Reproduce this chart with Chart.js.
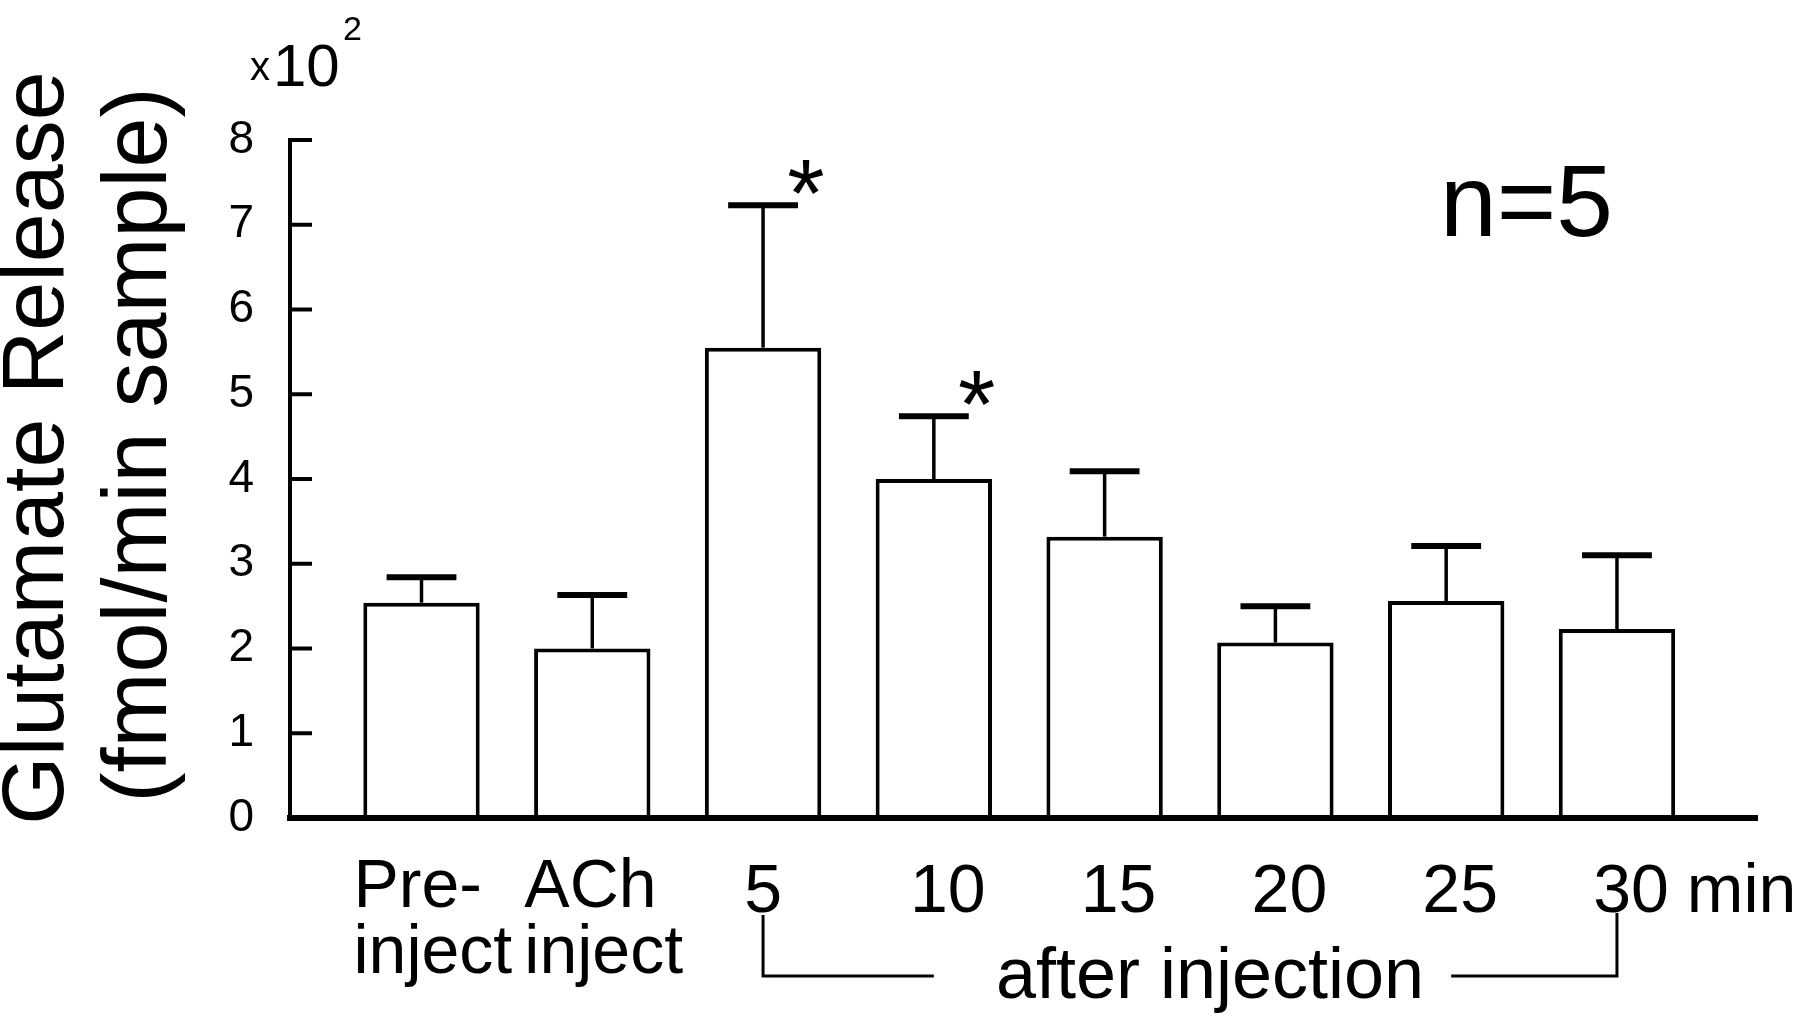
<!DOCTYPE html>
<html>
<head>
<meta charset="utf-8">
<script src="https://cdn.jsdelivr.net/npm/chart.js@4.4.3/dist/chart.umd.min.js"></script>
<style>
  html, body { margin: 0; padding: 0; background: #fff; }
  #wrap { width: 1800px; height: 1016px; }
</style>
</head>
<body>
<div id="wrap"><canvas id="chart" width="1800" height="1016"></canvas></div>
<script>
// Glutamate release before / after ACh injection (x10^2 fmol/min sample), n=5
const groupLabels = [['Pre-', 'inject'], ['ACh', 'inject'], ['5'], ['10'], ['15'], ['20'], ['25'], ['30']];
const timeUnit = 'min';
const meanRelease = [2.54, 2.00, 5.55, 4.00, 3.32, 2.07, 2.56, 2.23];
const semRelease = [0.30, 0.63, 1.68, 0.74, 0.77, 0.43, 0.65, 0.87];
const significant = [false, false, true, true, false, false, false, false];
const yTicks = [0, 1, 2, 3, 4, 5, 6, 7, 8];

const FONT = '"Liberation Sans", Arial, Helvetica, sans-serif';

function font(size) {
  return size + 'px ' + FONT;
}

// draws inward ticks, error bars, asterisks, category labels and other text
const annotate = {
  id: 'annotate',
  afterDatasetsDraw(chart) {
    const ctx = chart.ctx;
    const xs = chart.scales.x;
    const ys = chart.scales.y;
    const area = chart.chartArea;
    const bars = chart.getDatasetMeta(0).data;

    ctx.save();
    ctx.strokeStyle = '#000';
    ctx.fillStyle = '#000';
    ctx.lineCap = 'butt';

    // inward y ticks
    ctx.lineWidth = 4;
    for (const v of yTicks) {
      const y = ys.getPixelForValue(v);
      ctx.beginPath();
      ctx.moveTo(area.left, y);
      ctx.lineTo(area.left + 22, y);
      ctx.stroke();
    }

    // error bars (upper half only)
    meanRelease.forEach((m, i) => {
      const x = xs.getPixelForValue(i);
      const yTop = ys.getPixelForValue(m);
      const yErr = ys.getPixelForValue(m + semRelease[i]);
      const capHalf = bars[i].width * 0.3;
      ctx.lineWidth = 3.5;
      ctx.beginPath();
      ctx.moveTo(x, yTop);
      ctx.lineTo(x, yErr);
      ctx.stroke();
      ctx.lineWidth = 6;
      ctx.beginPath();
      ctx.moveTo(x - capHalf, yErr);
      ctx.lineTo(x + capHalf, yErr);
      ctx.stroke();
      if (significant[i]) {
        ctx.font = font(96);
        ctx.textAlign = 'center';
        ctx.textBaseline = 'alphabetic';
        const mt = ctx.measureText('*');
        const cy = yErr - 28;
        ctx.fillText('*', x + capHalf + 8, cy + (mt.actualBoundingBoxAscent - mt.actualBoundingBoxDescent) / 2);
      }
    });

    // category labels
    ctx.font = font(68);
    ctx.textBaseline = 'alphabetic';
    groupLabels.forEach((lines, i) => {
      const x = xs.getPixelForValue(i);
      if (lines.length > 1) {
        ctx.textAlign = 'left';
        lines.forEach((t, k) => ctx.fillText(t, x - 68, 907 + k * 66));
      } else {
        ctx.textAlign = 'center';
        ctx.fillText(lines[0], x + (i > 2 ? 14 : 0), 912);
      }
    });
    const last = groupLabels.length - 1;
    const lastX = xs.getPixelForValue(last) + 14;
    const lastW = ctx.measureText(groupLabels[last][0]).width;
    ctx.textAlign = 'left';
    ctx.fillText(timeUnit, lastX + lastW / 2 + 18, 912);

    // "after injection" bracket
    const x5 = xs.getPixelForValue(2);
    const x10 = xs.getPixelForValue(3);
    const x25 = xs.getPixelForValue(6);
    const x30 = xs.getPixelForValue(7);
    const yb = 976;
    ctx.lineWidth = 3;
    ctx.beginPath();
    ctx.moveTo(x5, 915);
    ctx.lineTo(x5, yb);
    ctx.lineTo(x10, yb);
    ctx.moveTo(x25 + 5, yb);
    ctx.lineTo(x30, yb);
    ctx.lineTo(x30, 913);
    ctx.stroke();
    ctx.textAlign = 'center';
    ctx.font = font(72);
    ctx.fillText('after injection', (x10 + x25) / 2 + 20, 998);

    // y axis title
    ctx.font = font(88);
    ctx.textBaseline = 'middle';
    ctx.save();
    ctx.translate(39, 448);
    ctx.rotate(-Math.PI / 2);
    ctx.fillText('Glutamate Release', 0, 0);
    ctx.restore();
    ctx.save();
    ctx.translate(141, 445);
    ctx.rotate(-Math.PI / 2);
    ctx.font = font(90);
    ctx.fillText('(fmol/min sample)', 0, 0);
    ctx.restore();

    // scale multiplier
    ctx.textAlign = 'left';
    ctx.textBaseline = 'alphabetic';
    ctx.font = font(40);
    ctx.fillText('x', 250, 80);
    ctx.font = font(60);
    ctx.fillText('10', 273, 86);
    ctx.font = font(34);
    ctx.fillText('2', 343, 40);

    // sample size
    ctx.font = font(102);
    ctx.fillText('n=5', 1440, 236);

    ctx.restore();
  }
};

new Chart(document.getElementById('chart'), {
  type: 'bar',
  data: {
    datasets: [{
      data: meanRelease.map((v, i) => ({ x: i, y: v })),
      backgroundColor: '#fff',
      borderColor: '#000',
      borderWidth: 4,
      barPercentage: 0.885,
      categoryPercentage: 1
    }]
  },
  options: {
    responsive: false,
    animation: false,
    layout: { padding: { top: 140, right: 43, left: 0, bottom: 0 } },
    plugins: {
      legend: { display: false },
      tooltip: { enabled: false }
    },
    scales: {
      x: {
        type: 'linear',
        offset: false,
        min: -0.77,
        max: 7.82,
        ticks: { display: false },
        grid: { display: false, drawTicks: false },
        border: { display: true, color: '#000', width: 6, z: 1 },
        afterFit: (s) => { s.height = 198; }
      },
      y: {
        min: 0,
        max: 8,
        ticks: { stepSize: 1, color: '#000', padding: 36, font: { family: FONT, size: 46 } },
        grid: { display: false, drawTicks: false },
        border: { display: true, color: '#000', width: 4 },
        afterFit: (s) => { s.width = 290; }
      }
    }
  },
  plugins: [annotate]
});
</script>
</body>
</html>
